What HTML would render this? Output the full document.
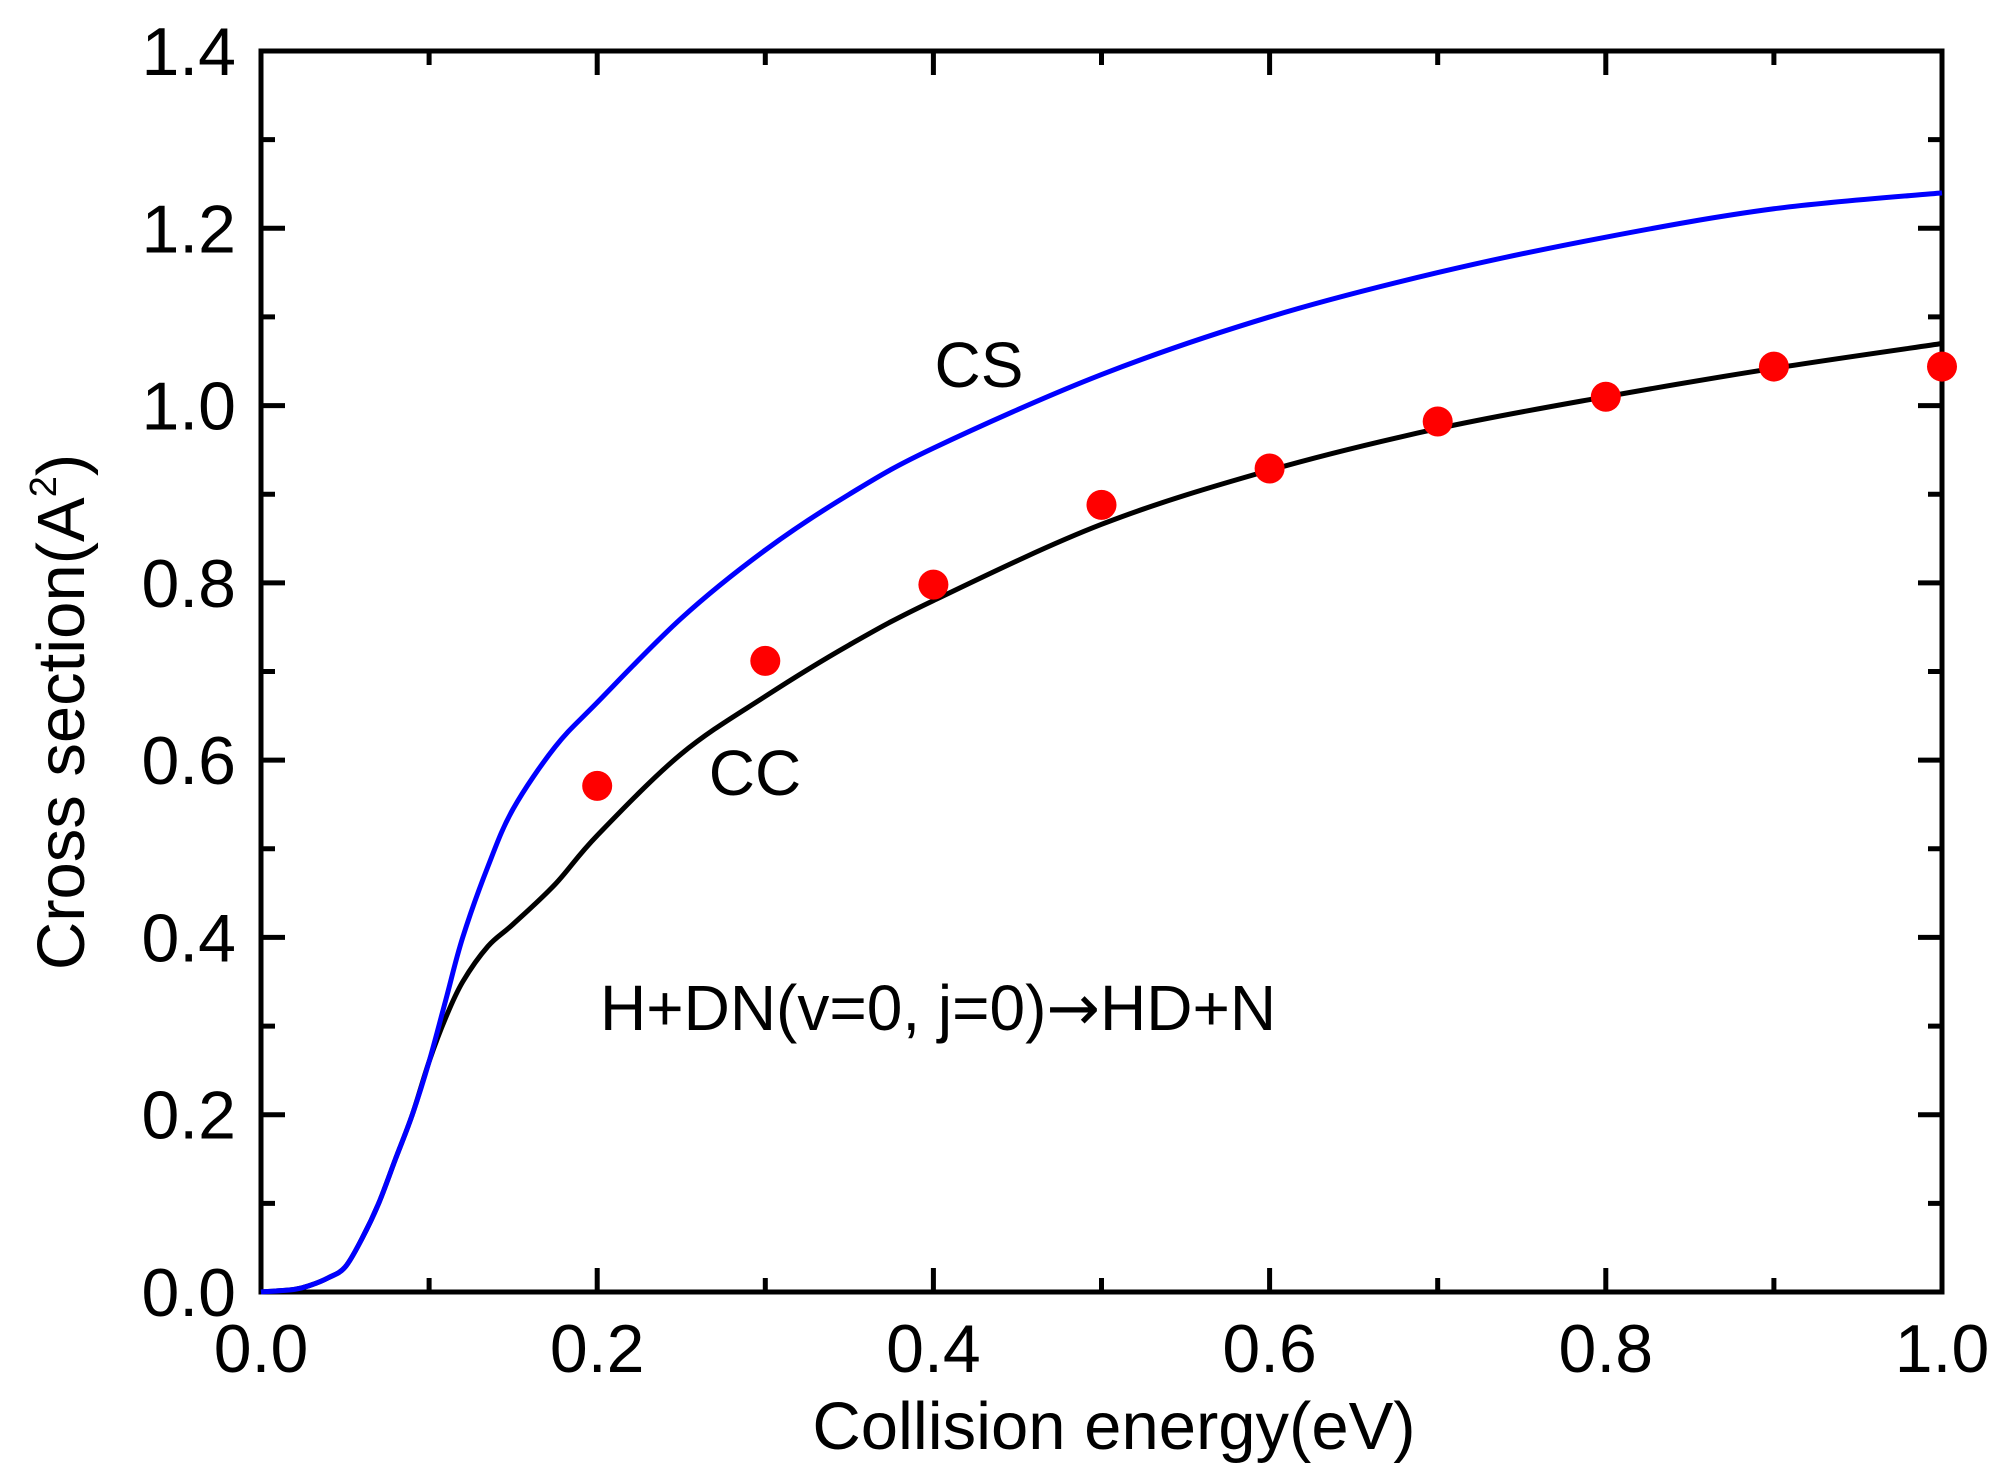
<!DOCTYPE html>
<html><head><meta charset="utf-8"><style>
html,body{margin:0;padding:0;background:#fff;}
svg{display:block;font-family:"Liberation Sans",Arial,sans-serif;}
</style></head><body>
<svg id="chart" width="2000" height="1464" viewBox="0 0 2000 1464">
<g id="axes"></g>
<g id="series"></g>
<text x="979" y="387" font-size="64" text-anchor="middle">CS</text>
<text x="755" y="795" font-size="64" text-anchor="middle">CC</text>
<text x="600" y="1030" font-size="64">H+DN(v=0, j=0)<tspan font-family="DejaVu Sans, sans-serif">→</tspan>HD+N</text>
<text x="1114" y="1449" font-size="67" text-anchor="middle">Collision energy(eV)</text>
<text transform="translate(84,712) rotate(-90)" font-size="67" text-anchor="middle">Cross section(A<tspan font-size="38" dy="-28">2</tspan><tspan dy="28">)</tspan></text>
</svg>
<script>
const xTicks=["0.0","0.2","0.4","0.6","0.8","1.0"];
const yTicks=["0.0","0.2","0.4","0.6","0.8","1.0","1.2","1.4"];
const csE=[0,0.02,0.03,0.04,0.05,0.06,0.07,0.08,0.09,0.1,0.11,0.12,0.135,0.15,0.175,0.2,0.25,0.3,0.35,0.4,0.5,0.6,0.7,0.8,0.9,1.0];
const csV=[0,0.003,0.008,0.016,0.028,0.06,0.1,0.15,0.2,0.26,0.33,0.4,0.48,0.545,0.615,0.665,0.76,0.837,0.9,0.952,1.035,1.10,1.15,1.19,1.222,1.24];
const ccE=[0,0.02,0.03,0.04,0.05,0.06,0.07,0.08,0.09,0.1,0.11,0.12,0.135,0.15,0.175,0.2,0.25,0.3,0.35,0.4,0.5,0.6,0.7,0.8,0.9,1.0];
const ccV=[0,0.003,0.008,0.016,0.028,0.06,0.1,0.15,0.2,0.26,0.31,0.35,0.39,0.415,0.46,0.515,0.607,0.672,0.73,0.78,0.866,0.927,0.974,1.01,1.042,1.07];
const expE=[0.2,0.3,0.4,0.5,0.6,0.7,0.8,0.9,1.0];
const expV=[0.571,0.712,0.798,0.888,0.929,0.982,1.01,1.044,1.044];

const L=261,R=1942,T=51,B=1292;
const X=v=>L+(R-L)*v;
const Y=v=>B-(B-T)*v/1.4;
const NS="http://www.w3.org/2000/svg";
function mk(tag,attrs,parent){const e=document.createElementNS(NS,tag);for(const k in attrs)e.setAttribute(k,attrs[k]);parent.appendChild(e);return e;}
const axes=document.getElementById('axes');
const series=document.getElementById('series');
let f=mk('rect',{x:L,y:T,width:R-L,height:B-T,fill:'none',stroke:'#000','stroke-width':5},axes);


for(let i=0;i<=10;i++){
  const v=i/10,len=(i%2==0)?24:14,x=X(v);
  let t=mk('path',{d:`M${x},${B}V${B-len}M${x},${T}V${T+len}`,stroke:'#000','stroke-width':5},axes);
  
  
}
xTicks.forEach((s,i)=>{
  let t=mk('text',{x:X(parseFloat(s)),y:1372,'font-size':68,'text-anchor':'middle'},axes);
  t.textContent=s;
  
  
});
for(let i=0;i<=14;i++){
  const v=i/10,len=(i%2==0)?24:14,y=Y(v);
  let t=mk('path',{d:`M${L},${y}H${L+len}M${R},${y}H${R-len}`,stroke:'#000','stroke-width':5},axes);
  
  
}
yTicks.forEach(s=>{
  let t=mk('text',{x:236,y:Y(parseFloat(s))+24,'font-size':68,'text-anchor':'end'},axes);
  t.textContent=s;
  
  
});
function spline(xs,ys){
  const p=xs.map((x,i)=>[X(x),Y(ys[i])]);
  let d=`M${p[0][0]},${p[0][1]}`;
  for(let i=0;i<p.length-1;i++){
    const p0=p[Math.max(i-1,0)],p1=p[i],p2=p[i+1],p3=p[Math.min(i+2,p.length-1)];
    const c1=[p1[0]+(p2[0]-p0[0])/6,p1[1]+(p2[1]-p0[1])/6];
    const c2=[p2[0]-(p3[0]-p1[0])/6,p2[1]-(p3[1]-p1[1])/6];
    d+=`C${c1[0]},${c1[1]} ${c2[0]},${c2[1]} ${p2[0]},${p2[1]}`;
  }
  return d;
}
let cc=mk('path',{d:spline(ccE,ccV),fill:'none',stroke:'#000','stroke-width':5},series);


let cs=mk('path',{d:spline(csE,csV),fill:'none',stroke:'#0000ff','stroke-width':5},series);


expE.forEach((e,i)=>{
  let c=mk('circle',{cx:X(e),cy:Y(expV[i]),r:15,fill:'#ff0000'},series);
  
  
});
</script>
</body></html>
